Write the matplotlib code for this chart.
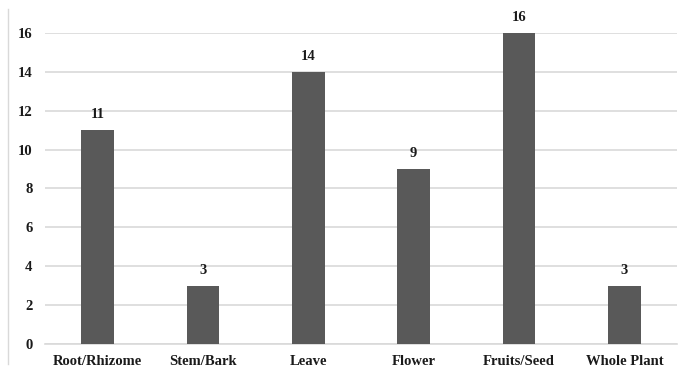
import matplotlib.pyplot as plt
from matplotlib.lines import Line2D

parts = ['Root/Rhizome', 'Stem/Bark', 'Leave', 'Flower', 'Fruits/Seed', 'Whole Plant']
counts = [11, 3, 14, 9, 16, 3]
yticks = [0, 2, 4, 6, 8, 10, 12, 14, 16]

plt.rcParams['font.family'] = ['Liberation Serif', 'DejaVu Serif']
plt.rcParams['font.weight'] = 'bold'

fig = plt.figure(figsize=(6.91, 3.75), dpi=100)
ax = fig.add_axes([0.065, 0.083, 0.915, 0.829])

x = range(len(parts))
bars = ax.bar(x, counts, width=0.31, color='#595959', zorder=3)
for b, v in zip(bars, counts):
    ax.text(b.get_x() + b.get_width() / 2, v + 0.45, str(v), ha='center', va='bottom',
            fontsize=10.5, fontweight='bold', color='#1a1a1a', clip_on=False)

ax.set_xlim(-0.5, len(parts) - 0.5)
ax.set_ylim(0, 16)
ax.set_yticks(yticks)
ax.set_xticks(list(x))
ax.set_xticklabels(parts)
ax.grid(axis='y', color='#d9d9d9', linewidth=1.2, zorder=0)
ax.tick_params(axis='both', length=0, labelsize=10.5, labelcolor='#1a1a1a')
ax.tick_params(axis='y', pad=9)
ax.tick_params(axis='x', pad=8)
for s in ax.spines.values():
    s.set_visible(False)
ax.axhline(0, color='#d9d9d9', linewidth=1.2, zorder=1, clip_on=False)

# thin frame edge on the left
fig.add_artist(Line2D([0.011, 0.011], [0.03, 0.975], transform=fig.transFigure,
                      color='#d9d9d9', linewidth=1))

fig.savefig('out.png', dpi=100)
